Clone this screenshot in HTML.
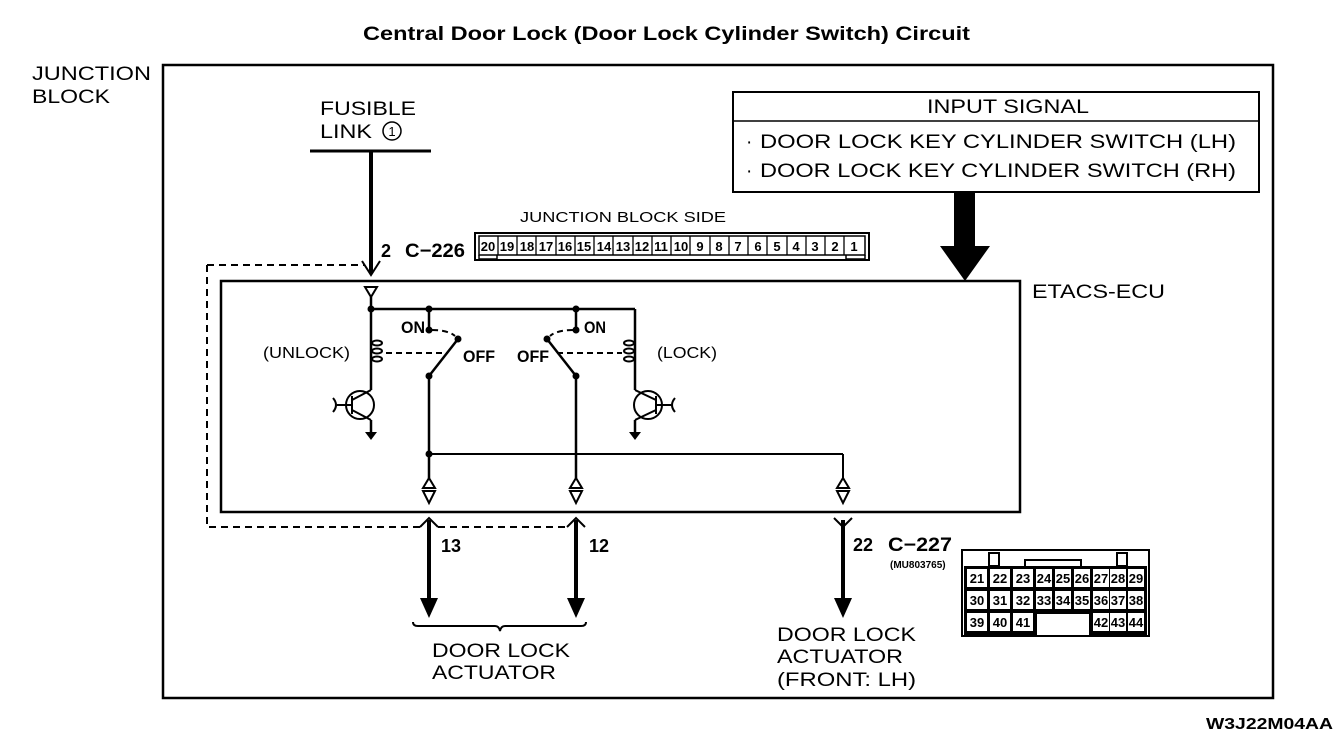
<!DOCTYPE html>
<html><head><meta charset="utf-8"><style>
html,body{margin:0;padding:0;background:#fff;}
svg{display:block;}
text{font-family:"Liberation Sans",sans-serif;fill:#000;}
</style></head><body>
<svg width="1344" height="754" viewBox="0 0 1344 754" xmlns="http://www.w3.org/2000/svg">
<rect width="1344" height="754" fill="#fff"/>
<text x="363" y="40" font-size="19" font-weight="bold" textLength="607" lengthAdjust="spacingAndGlyphs">Central Door Lock (Door Lock Cylinder Switch) Circuit</text>
<text x="32" y="80" font-size="19" textLength="119" lengthAdjust="spacingAndGlyphs">JUNCTION</text>
<text x="32" y="103" font-size="19" textLength="78" lengthAdjust="spacingAndGlyphs">BLOCK</text>
<rect x="163" y="65" width="1110" height="633" fill="none" stroke="#000" stroke-width="2.5"/>
<text x="320" y="115" font-size="19" textLength="96" lengthAdjust="spacingAndGlyphs">FUSIBLE</text>
<text x="320" y="138" font-size="19" textLength="52" lengthAdjust="spacingAndGlyphs">LINK</text>
<circle cx="392" cy="131" r="9" fill="none" stroke="#000" stroke-width="1.5"/>
<text x="392" y="136" font-size="13" text-anchor="middle">1</text>
<line x1="310" y1="151" x2="431" y2="151" stroke="#000" stroke-width="3"/>
<line x1="371" y1="151" x2="371" y2="273" stroke="#000" stroke-width="4"/>
<path d="M362 261 L371 275 L380 261" fill="none" stroke="#000" stroke-width="2"/>
<text x="381" y="257" font-size="18" font-weight="bold">2</text>
<text x="405" y="257" font-size="19" font-weight="bold" textLength="60" lengthAdjust="spacingAndGlyphs">C−226</text>
<text x="520" y="222" font-size="15" textLength="206" lengthAdjust="spacingAndGlyphs">JUNCTION BLOCK SIDE</text>
<rect x="475" y="233" width="394" height="27" fill="none" stroke="#000" stroke-width="2"/>
<g stroke="#000" stroke-width="1.5" fill="none">
<rect x="479" y="236" width="386" height="19"/>
<path d="M479 255 L479 259 L497 259 L497 255 M846 255 L846 259 L865 259 L865 255"/>
</g>
<g font-size="13" font-weight="bold" text-anchor="middle">
<text x="488" y="251">20</text><text x="507" y="251">19</text><text x="527" y="251">18</text><text x="546" y="251">17</text><text x="565" y="251">16</text><text x="584" y="251">15</text><text x="604" y="251">14</text><text x="623" y="251">13</text><text x="642" y="251">12</text><text x="661" y="251">11</text><text x="681" y="251">10</text><text x="700" y="251">9</text><text x="719" y="251">8</text><text x="738" y="251">7</text><text x="758" y="251">6</text><text x="777" y="251">5</text><text x="796" y="251">4</text><text x="815" y="251">3</text><text x="835" y="251">2</text><text x="854" y="251">1</text>
</g>
<g stroke="#000" stroke-width="1.3">
<line x1="498" y1="236" x2="498" y2="255"/><line x1="517" y1="236" x2="517" y2="255"/><line x1="536" y1="236" x2="536" y2="255"/><line x1="556" y1="236" x2="556" y2="255"/><line x1="575" y1="236" x2="575" y2="255"/><line x1="594" y1="236" x2="594" y2="255"/><line x1="613" y1="236" x2="613" y2="255"/><line x1="633" y1="236" x2="633" y2="255"/><line x1="652" y1="236" x2="652" y2="255"/><line x1="671" y1="236" x2="671" y2="255"/><line x1="690" y1="236" x2="690" y2="255"/><line x1="710" y1="236" x2="710" y2="255"/><line x1="729" y1="236" x2="729" y2="255"/><line x1="748" y1="236" x2="748" y2="255"/><line x1="767" y1="236" x2="767" y2="255"/><line x1="787" y1="236" x2="787" y2="255"/><line x1="806" y1="236" x2="806" y2="255"/><line x1="825" y1="236" x2="825" y2="255"/><line x1="844" y1="236" x2="844" y2="255"/>
</g>
<rect x="733" y="92" width="526" height="100" fill="#fff" stroke="#000" stroke-width="2"/>
<line x1="733" y1="121" x2="1259" y2="121" stroke="#000" stroke-width="1.5"/>
<text x="927" y="113" font-size="19" textLength="162" lengthAdjust="spacingAndGlyphs">INPUT SIGNAL</text>
<text x="746" y="148" font-size="19">·</text>
<text x="746" y="177" font-size="19">·</text>
<text x="760" y="148" font-size="19" textLength="476" lengthAdjust="spacingAndGlyphs">DOOR LOCK KEY CYLINDER SWITCH (LH)</text>
<text x="760" y="177" font-size="19" textLength="476" lengthAdjust="spacingAndGlyphs">DOOR LOCK KEY CYLINDER SWITCH (RH)</text>
<rect x="954" y="192" width="21" height="55" fill="#000"/>
<path d="M940 246 L990 246 L965 281 Z" fill="#000"/>
<rect x="221" y="281" width="799" height="231" fill="none" stroke="#000" stroke-width="2.5"/>
<text x="1032" y="298" font-size="19" textLength="133" lengthAdjust="spacingAndGlyphs">ETACS-ECU</text>
<path d="M207 265 L365 265 M207 265 L207 527 L420 527 M438 527 L568 527" fill="none" stroke="#000" stroke-width="2" stroke-dasharray="7,5"/>
<g stroke="#000" stroke-width="2.5" fill="none">
<path d="M365 287 L377 287 L371 297 Z" stroke-width="2"/>
<line x1="371" y1="297" x2="371" y2="330"/>
<line x1="371" y1="309" x2="635" y2="309"/>
<line x1="635" y1="309" x2="635" y2="330"/>
<line x1="371" y1="330" x2="371" y2="390"/>
<ellipse cx="377" cy="343" rx="5" ry="2.5" stroke-width="2"/>
<ellipse cx="377" cy="351" rx="5" ry="2.5" stroke-width="2"/>
<ellipse cx="377" cy="359" rx="5" ry="2.5" stroke-width="2"/>
<circle cx="360" cy="405" r="14" stroke-width="2"/>
<line x1="352" y1="396" x2="352" y2="414" stroke-width="2"/>
<line x1="337" y1="405" x2="352" y2="405" stroke-width="2"/>
<path d="M333 398 q6 7 0 14" stroke-width="2"/>
<line x1="352" y1="400" x2="371" y2="390" stroke-width="2"/>
<line x1="352" y1="410" x2="371" y2="420" stroke-width="2"/>
<line x1="371" y1="420" x2="371" y2="434"/>
<line x1="635" y1="330" x2="635" y2="390"/>
<ellipse cx="629" cy="343" rx="5" ry="2.5" stroke-width="2"/>
<ellipse cx="629" cy="351" rx="5" ry="2.5" stroke-width="2"/>
<ellipse cx="629" cy="359" rx="5" ry="2.5" stroke-width="2"/>
<circle cx="648" cy="405" r="14" stroke-width="2"/>
<line x1="656" y1="396" x2="656" y2="414" stroke-width="2"/>
<line x1="656" y1="405" x2="671" y2="405" stroke-width="2"/>
<path d="M675 398 q-6 7 0 14" stroke-width="2"/>
<line x1="656" y1="400" x2="635" y2="390" stroke-width="2"/>
<line x1="656" y1="410" x2="635" y2="420" stroke-width="2"/>
<line x1="635" y1="420" x2="635" y2="434"/>
<line x1="429" y1="309" x2="429" y2="330"/>
<line x1="429" y1="376" x2="458" y2="339"/>
<line x1="576" y1="309" x2="576" y2="330"/>
<line x1="576" y1="376" x2="547" y2="339"/>
<line x1="429" y1="376" x2="429" y2="478"/>
<line x1="576" y1="376" x2="576" y2="478"/>
<line x1="429" y1="454" x2="843" y2="454" stroke-width="2"/>
<line x1="843" y1="454" x2="843" y2="478" stroke-width="2"/>
</g>
<g fill="#000">
<path d="M365 432 L377 432 L371 440 Z"/><path d="M629 432 L641 432 L635 440 Z"/>
<circle cx="371" cy="309" r="3.5"/><circle cx="429" cy="309" r="3.5"/><circle cx="576" cy="309" r="3.5"/>
<circle cx="429" cy="330" r="3.5"/><circle cx="576" cy="330" r="3.5"/>
<circle cx="458" cy="339" r="3.5"/><circle cx="547" cy="339" r="3.5"/>
<circle cx="429" cy="376" r="3.5"/><circle cx="576" cy="376" r="3.5"/>
<circle cx="429" cy="454" r="3.5"/>
</g>
<g stroke="#000" stroke-width="2" fill="none" stroke-dasharray="6,4">
<path d="M432 330 Q448 330 455 336"/>
<path d="M573 330 Q557 330 550 336"/>
<line x1="386" y1="353" x2="448" y2="353"/>
<line x1="557" y1="353" x2="622" y2="353"/>
</g>
<g font-size="17" font-weight="bold">
<text x="401" y="333" textLength="24" lengthAdjust="spacingAndGlyphs">ON</text><text x="463" y="362" textLength="32" lengthAdjust="spacingAndGlyphs">OFF</text>
<text x="517" y="362" textLength="32" lengthAdjust="spacingAndGlyphs">OFF</text><text x="584" y="333" textLength="22" lengthAdjust="spacingAndGlyphs">ON</text>
</g>
<text x="263" y="358" font-size="16" textLength="87" lengthAdjust="spacingAndGlyphs">(UNLOCK)</text>
<text x="657" y="358" font-size="16" textLength="60" lengthAdjust="spacingAndGlyphs">(LOCK)</text>
<g stroke="#000" stroke-width="2" fill="none">
<path d="M423 488 L435 488 L429 478 Z M423 491 L435 491 L429 503 Z"/>
<path d="M570 488 L582 488 L576 478 Z M570 491 L582 491 L576 503 Z"/>
<path d="M837 488 L849 488 L843 478 Z M837 491 L849 491 L843 503 Z"/>
</g>
<g stroke="#000" stroke-width="4">
<line x1="429" y1="520" x2="429" y2="600"/>
<line x1="576" y1="520" x2="576" y2="600"/>
<line x1="843" y1="520" x2="843" y2="600"/>
</g>
<g stroke="#000" stroke-width="2" fill="none">
<path d="M420 527 L429 518 L438 527"/>
<path d="M567 527 L576 518 L585 527"/>
<path d="M834 518 L843 527 L852 518"/>
<path d="M413 622 q0 4 5 4 L495 626 q4 0 5 5 q1 -5 5 -5 L581 626 q5 0 5 -4"/>
</g>
<g fill="#000">
<path d="M420 598 L438 598 L429 618 Z"/><path d="M567 598 L585 598 L576 618 Z"/><path d="M834 598 L852 598 L843 618 Z"/>
</g>
<g font-size="18" font-weight="bold">
<text x="441" y="552">13</text><text x="589" y="552">12</text><text x="853" y="551">22</text>
</g>
<text x="888" y="551" font-size="19" font-weight="bold" textLength="64" lengthAdjust="spacingAndGlyphs">C−227</text>
<text x="890" y="568" font-size="10" font-weight="bold">(MU803765)</text>
<text x="432" y="657" font-size="19" textLength="138" lengthAdjust="spacingAndGlyphs">DOOR LOCK</text>
<text x="432" y="679" font-size="19" textLength="124" lengthAdjust="spacingAndGlyphs">ACTUATOR</text>
<text x="777" y="641" font-size="19" textLength="139" lengthAdjust="spacingAndGlyphs">DOOR LOCK</text>
<text x="777" y="663" font-size="19" textLength="126" lengthAdjust="spacingAndGlyphs">ACTUATOR</text>
<text x="777" y="686" font-size="19" textLength="139" lengthAdjust="spacingAndGlyphs">(FRONT: LH)</text>
<g stroke="#000" stroke-width="2" fill="none">
<rect x="962" y="550" width="187" height="86"/>
<rect x="989" y="553" width="10" height="13"/>
<rect x="1117" y="553" width="10" height="13"/>
<path d="M1025 566 L1025 560 L1081 560 L1081 566"/>
</g>
<rect x="964" y="566" width="183" height="69" fill="#000"/>
<rect x="1037" y="614" width="52" height="21" fill="#fff"/>
<g fill="#fff">
<rect x="967" y="569" width="20" height="18"/><rect x="990" y="569" width="20" height="18"/><rect x="1013" y="569" width="20" height="18"/><rect x="1036" y="569" width="16" height="18"/><rect x="1055" y="569" width="16" height="18"/><rect x="1074" y="569" width="16" height="18"/><rect x="1093" y="569" width="16" height="18"/><rect x="1110" y="569" width="16" height="18"/><rect x="1128" y="569" width="16" height="18"/>
<rect x="967" y="591" width="20" height="18"/><rect x="990" y="591" width="20" height="18"/><rect x="1013" y="591" width="20" height="18"/><rect x="1036" y="591" width="16" height="18"/><rect x="1055" y="591" width="16" height="18"/><rect x="1074" y="591" width="16" height="18"/><rect x="1093" y="591" width="16" height="18"/><rect x="1110" y="591" width="16" height="18"/><rect x="1128" y="591" width="16" height="18"/>
<rect x="967" y="613" width="20" height="18"/><rect x="990" y="613" width="20" height="18"/><rect x="1013" y="613" width="20" height="18"/><rect x="1093" y="613" width="16" height="18"/><rect x="1110" y="613" width="16" height="18"/><rect x="1128" y="613" width="16" height="18"/>
</g>
<g font-size="13" font-weight="bold" text-anchor="middle">
<text x="977" y="583">21</text><text x="1000" y="583">22</text><text x="1023" y="583">23</text><text x="1044" y="583">24</text><text x="1063" y="583">25</text><text x="1082" y="583">26</text><text x="1101" y="583">27</text><text x="1118" y="583">28</text><text x="1136" y="583">29</text>
<text x="977" y="605">30</text><text x="1000" y="605">31</text><text x="1023" y="605">32</text><text x="1044" y="605">33</text><text x="1063" y="605">34</text><text x="1082" y="605">35</text><text x="1101" y="605">36</text><text x="1118" y="605">37</text><text x="1136" y="605">38</text>
<text x="977" y="627">39</text><text x="1000" y="627">40</text><text x="1023" y="627">41</text><text x="1101" y="627">42</text><text x="1118" y="627">43</text><text x="1136" y="627">44</text>
</g>
<text x="1206" y="729" font-size="16" font-weight="bold" textLength="127" lengthAdjust="spacingAndGlyphs">W3J22M04AA</text>
</svg>
</body></html>
